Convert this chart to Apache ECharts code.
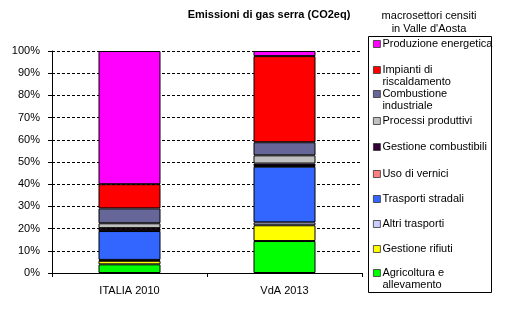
<!DOCTYPE html>
<html><head><meta charset="utf-8">
<script src="https://cdn.jsdelivr.net/npm/echarts@6/dist/echarts.min.js"></script>
<style>html,body{margin:0;padding:0;background:#fff}#c{width:514px;height:334px}</style>
</head><body><div id="c"></div>
<script>
var categories = ['ITALIA 2010', 'VdA 2013'];
var seriesNames = ['Agricoltura e\nallevamento', 'Gestione rifiuti', 'Altri trasporti', 'Trasporti stradali', 'Uso di vernici', 'Gestione combustibili', 'Processi produttivi', 'Combustione\nindustriale', 'Impianti di\nriscaldamento', 'Produzione energetica'];
var agricoltura = [3.9, 14.4];
var rifiuti = [1.6, 7.1];
var altriTrasporti = [0.4, 1.3];
var stradali = [13.0, 25.1];
var vernici = [0.2, 0.3];
var combustibili = [1.1, 1.1];
var processi = [2.2, 3.7];
var combustione = [6.7, 5.9];
var impianti = [10.9, 38.8];
var produzione = [60.0, 2.3];
var yTicks = [0, 10, 20, 30, 40, 50, 60, 70, 80, 90, 100];

var values = [agricoltura, rifiuti, altriTrasporti, stradali, vernici, combustibili, processi, combustione, impianti, produzione];
var colors = ['#00FF00', '#FFFF00', '#CCCCFF', '#3366FF', '#FF8080', '#330033', '#C0C0C0', '#666699', '#FF0000', '#FF00FF'];
var font = 'Liberation Sans, Arial, sans-serif';

var series = seriesNames.map(function (n, i) {
  return {
    name: n, type: 'bar', stack: 's', barWidth: '40%', data: values[i],
    itemStyle: { color: colors[i], borderColor: '#000', borderWidth: 1 },
    emphasis: { disabled: true }, animation: false
  };
});

// legend item first-line centers (top of legend = first)
var legendCenters = [273, 248, 223, 198, 173, 146, 120, 94, 70, 43];
var legends = seriesNames.map(function (n, i) {
  var two = n.indexOf('\n') >= 0;
  return {
    data: [n], orient: 'vertical', left: 373, top: legendCenters[i] - (two ? 6 : 5),
    padding: 0, itemWidth: 7, itemHeight: two ? 19 : 7,
    icon: two ? 'path://M0,0L7,0L7,7L0,7ZM0,19L0,19' : 'rect', selectedMode: false,
    itemStyle: { borderColor: '#333', borderWidth: 0.8 },
    textStyle: { fontFamily: font, fontSize: 11, color: '#000', lineHeight: 12, padding: [0, 0, 0, -3] }
  };
});

var chart = echarts.init(document.getElementById('c'), null, { renderer: 'canvas' });
chart.setOption({
  animation: false,
  title: [
    { text: 'Emissioni di gas serra (CO2eq)', left: 269, top: 9, padding: 0, textAlign: 'center',
      textStyle: { fontFamily: font, fontSize: 11, fontWeight: 'bold', color: '#000' } },
    { text: "macrosettori censiti\nin Valle d'Aosta", left: 429, top: 9, padding: 0, textAlign: 'center',
      textStyle: { fontFamily: font, fontSize: 11, fontWeight: 'normal', color: '#000', lineHeight: 13 } }
  ],
  legend: legends,
  graphic: [{ type: 'rect', shape: { x: 368.5, y: 36.5, width: 123, height: 256 }, style: { fill: 'none', stroke: '#000', lineWidth: 1 }, silent: true }],
  grid: { left: 52, right: 152, top: 51, bottom: 61, containLabel: false },
  xAxis: {
    type: 'category', data: categories,
    axisLine: { lineStyle: { color: '#000', width: 1 } },
    axisTick: { show: true, length: 4, inside: false, lineStyle: { color: '#000' } },
    axisLabel: { fontFamily: font, fontSize: 11, color: '#000', margin: 12 }
  },
  yAxis: {
    type: 'value', min: yTicks[0], max: yTicks[yTicks.length - 1], interval: 10,
    axisLine: { show: true, lineStyle: { color: '#000', width: 1 } },
    axisTick: { show: true, length: 4, lineStyle: { color: '#000' } },
    axisLabel: { fontFamily: font, fontSize: 11, color: '#000', margin: 12, formatter: '{value}%' },
    splitLine: { show: true, lineStyle: { color: '#000', type: [3, 2], width: 1 } }
  },
  series: series
});
</script></body></html>
